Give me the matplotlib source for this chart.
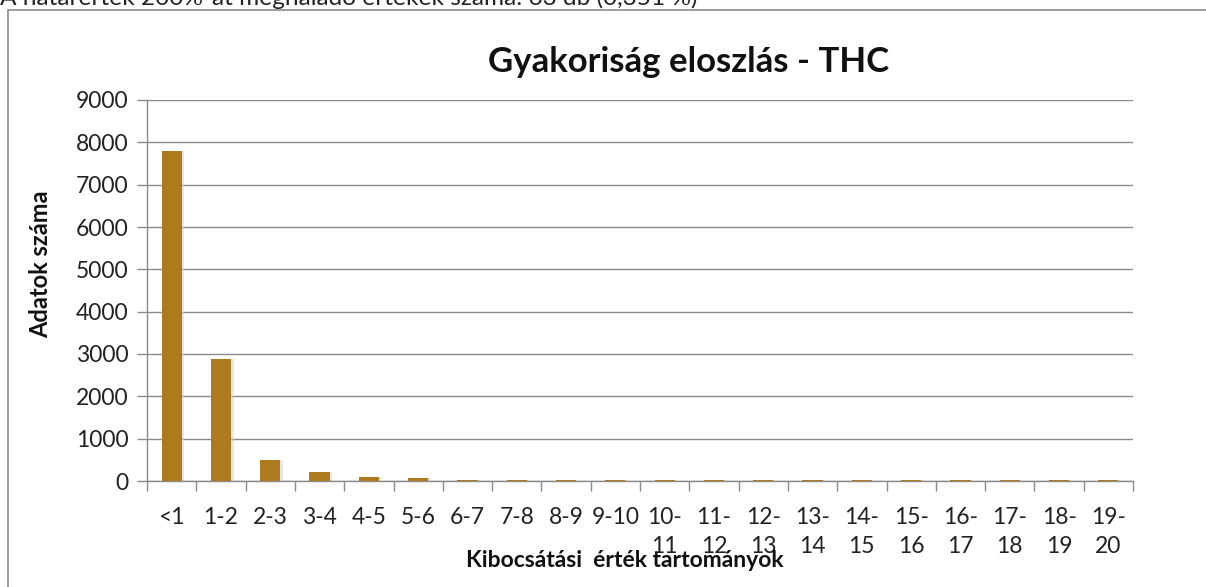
import matplotlib
matplotlib.use("Agg")
import matplotlib.pyplot as plt
from matplotlib.patches import Rectangle

categories = ["<1", "1-2", "2-3", "3-4", "4-5", "5-6", "6-7", "7-8", "8-9", "9-10",
              "10-\n11", "11-\n12", "12-\n13", "13-\n14", "14-\n15", "15-\n16",
              "16-\n17", "17-\n18", "18-\n19", "19-\n20"]
counts = [7800, 2880, 490, 220, 95, 62, 35, 35, 35, 35,
          35, 35, 35, 35, 35, 35, 35, 35, 35, 35]
yticks = [0, 1000, 2000, 3000, 4000, 5000, 6000, 7000, 8000, 9000]

title = "Gyakoriság eloszlás - THC"
ylabel = "Adatok száma"
xlabel = "Kibocsátási  érték tartományok"
top_note = "A határérték 200%-át meghaladó értékek száma: 63 db (0,351 %)"

plt.rcParams['font.family'] = ['Lato', 'DejaVu Sans']

W, H = 1206, 587
fig = plt.figure(figsize=(W / 100, H / 100), dpi=100)
fig.patch.set_facecolor("white")

# outer chart border
fig.patches.append(Rectangle((8 / W, -0.2), 1.5, 1 - 10 / H + 0.2,
                             transform=fig.transFigure, fill=False,
                             edgecolor="#8c8c8c", linewidth=1.2))
fig.text(0.0, 1 - 5 / H, top_note, fontsize=17.6, va="baseline", ha="left",
         color="#222222")

ax = fig.add_axes([147 / W, 1 - 481 / H, (1133 - 147) / W, (481 - 100) / H])
x = list(range(len(categories)))
color = "#AE7A1E"
# soft shadow
ax.bar([i + 0.05 for i in x], counts, width=0.41, color="#d0d0d0", alpha=0.5,
       zorder=2)
ax.bar(x, counts, width=0.41, color=color, zorder=3)

ax.set_xlim(-0.5, len(categories) - 0.5)
ax.set_ylim(0, 9000)
ax.set_yticks(yticks)
ax.set_yticklabels([str(v) for v in yticks], fontsize=16.5, color="#222222")
ax.yaxis.grid(True, color="#8a8a8a", linewidth=1.0, zorder=0)
ax.set_axisbelow(True)

ax.set_xticks(x)
ax.set_xticklabels(categories, fontsize=16.5, color="#222222",
                   linespacing=1.45, va="top")
ax.tick_params(axis="x", which="major", length=0, pad=19)
ax.set_xticks([i - 0.5 for i in range(len(categories) + 1)], minor=True)
ax.tick_params(axis="x", which="minor", length=7.2, color="#8a8a8a", width=1)
ax.tick_params(axis="y", length=7.2, color="#8a8a8a", width=1, pad=6)

for s in ["top", "right"]:
    ax.spines[s].set_visible(False)
for s in ["left", "bottom"]:
    ax.spines[s].set_color("#8a8a8a")
    ax.spines[s].set_linewidth(1)

fig.text(689 / W, 1 - 72 / H, title, fontsize=25, fontweight="bold",
         ha="center", va="baseline", color="#111111")
fig.text(41 / W, 1 - 264 / H, ylabel, fontsize=17, fontweight="bold",
         rotation=90, ha="center", va="center", color="#111111")
fig.text(625 / W, 1 - 567 / H, xlabel, fontsize=16.5, fontweight="bold",
         ha="center", va="baseline", color="#111111")

fig.savefig("out.png", dpi=100, facecolor="white")
